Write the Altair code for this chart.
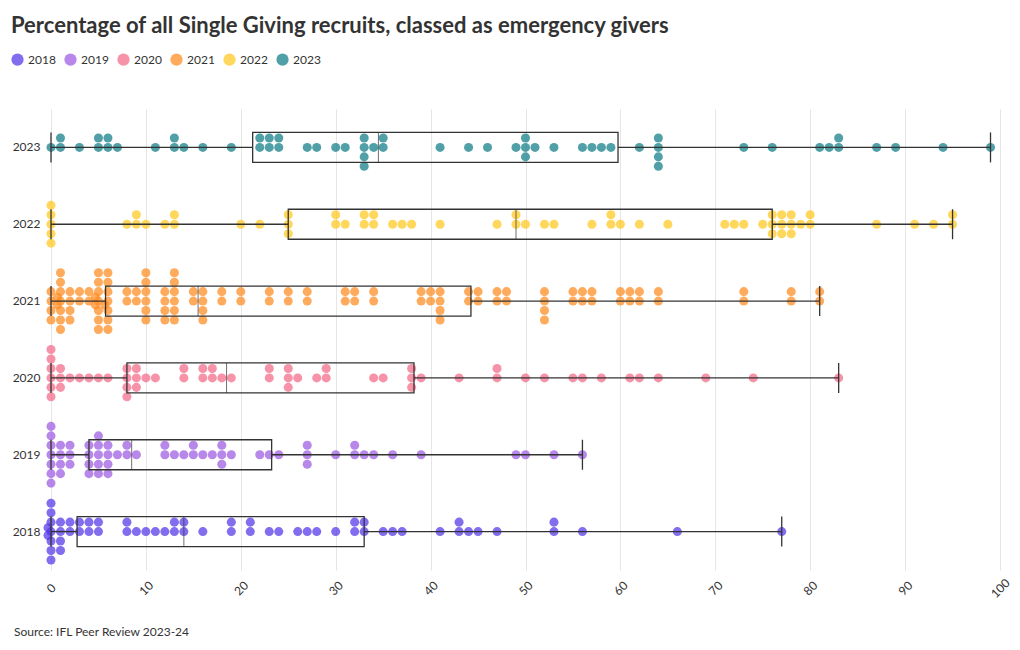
import altair as alt
import pandas as pd

years = ["2018", "2019", "2020", "2021", "2022", "2023"]
colors = ["#5235e8", "#9b59e0", "#f46a88", "#ff8b1f", "#ffc81f", "#0e7c87"]

v2018 = [0]*9 + [1]*4 + [2]*2 + [3]*2 + [4]*2 + [5]*2 + [8]*2 + [9, 10, 11, 12] + [13]*2 + [14]*2 + [16] + \
        [19]*2 + [21]*2 + [23, 24, 26, 27, 28, 30] + [32]*2 + [33]*2 + [35, 36, 37, 41] + [43]*2 + \
        [44, 45, 47] + [53]*2 + [56, 66, 77]
v2019 = [0]*7 + [1]*4 + [2]*3 + [4]*4 + [5]*5 + [6]*4 + [7] + [8]*2 + [9] + [12]*2 + [13, 14] + [15]*2 + \
        [16, 17] + [18]*3 + [19, 22, 23, 24] + [27]*3 + [30] + [32]*2 + [33, 34, 36, 39, 49, 50, 53, 56]
v2020 = [0]*6 + [1]*3 + [2, 3, 4, 5, 6] + [8]*4 + [9]*3 + [10, 11] + [14]*2 + [16]*2 + [17]*2 + [18, 19] + \
        [23]*2 + [25]*3 + [26, 28] + [29]*2 + [34, 35] + [38]*3 + [39, 43] + [47]*2 + \
        [50, 52, 55, 56, 58, 61, 62, 64, 69, 74, 83]
v2021 = [0]*4 + [1]*9 + [2]*4 + [3]*2 + [4]*2 + [5]*9 + [6]*8 + [8]*2 + [9]*2 + [10]*6 + [12]*4 + [13]*6 + \
        [15]*2 + [16]*4 + [18]*2 + [20]*2 + [23]*2 + [25]*2 + [27]*2 + [31]*2 + [32]*2 + [34]*2 + \
        [39]*2 + [40]*2 + [41]*4 + [44]*2 + [45]*2 + [47]*2 + [48]*2 + [52]*4 + [55]*2 + [56]*2 + \
        [57]*2 + [60]*2 + [61]*2 + [62]*2 + [64]*2 + [73]*2 + [78]*2 + [81]*2
v2022 = [0]*5 + [8] + [9]*2 + [10, 12] + [13]*2 + [20, 22] + [25]*3 + [30]*2 + [31] + [33]*2 + [34]*2 + \
        [36, 37, 38, 41, 47] + [49]*2 + [50, 52, 53, 57] + [59]*2 + [60, 62, 65, 71, 72, 73, 75] + \
        [76]*3 + [77]*3 + [78]*3 + [79] + [80]*2 + [87, 91, 93] + [95]*2
v2023 = [0] + [1]*2 + [3] + [5]*2 + [6]*2 + [7, 11] + [13]*2 + [14, 16, 19] + [22]*2 + [23]*2 + [24]*2 + \
        [27, 28, 30, 31] + [33]*4 + [34] + [35]*2 + [41, 44, 46, 49] + [50]*3 + [51, 53, 56, 57, 58, 59, 62] + \
        [64]*4 + [73, 76, 81, 82] + [83]*2 + [87, 89, 94, 99]

series = {"2018": v2018, "2019": v2019, "2020": v2020, "2021": v2021, "2022": v2022, "2023": v2023}

W, H = 949, 461
band = H / len(years)

# vertical stacking order of dots sharing a value (in dot steps); a column holds 7 dots,
# further dots are tucked in just beside the column centre
stack_order = [0, -1, 1, 2, -2, -3, 3]
overflow_order = [0.4, -0.4, 0.0, 0.8, -0.8]
step_px = 9.45

rows = []
for yr, vals in series.items():
    seen = {}
    for v in vals:
        k = seen.get(v, 0)
        seen[v] = k + 1
        if k < len(stack_order):
            rows.append({"year": yr, "value": v, "off": band / 2 + stack_order[k] * step_px, "extra": 0})
        else:
            rows.append({"year": yr, "value": v,
                         "off": band / 2 + overflow_order[k - len(stack_order)] * step_px, "extra": 1})
df = pd.DataFrame(rows)

y_enc = alt.Y("year:N", sort=years[::-1], title=None,
              scale=alt.Scale(paddingInner=0, paddingOuter=0),
              axis=alt.Axis(domain=False, ticks=False, grid=False, labelFontSize=12,
                            labelColor="#333", labelPadding=11, labelFont="Lato"))
x_enc = alt.X("value:Q", title=None, scale=alt.Scale(domain=[0, 100], nice=False),
              axis=alt.Axis(values=list(range(0, 101, 10)), domain=False, ticks=False,
                            grid=True, gridColor="#e6e6e6", labelAngle=-45, labelAlign="center",
                            labelBaseline="middle", labelFontSize=12,
                            labelColor="#333", labelFont="Lato", labelPadding=18))
color_enc = alt.Color("year:N", scale=alt.Scale(domain=years, range=colors),
                      legend=alt.Legend(title=None, orient="none", direction="horizontal",
                                        legendX=-40, legendY=-56, symbolType="circle",
                                        symbolSize=150, symbolOpacity=1, labelFontSize=12,
                                        labelColor="#333", labelFont="Lato", columnPadding=8,
                                        symbolStrokeWidth=0))

base = alt.Chart(df)
dots = base.transform_filter("datum.extra == 0").mark_circle(size=82, opacity=0.72).encode(
    x=x_enc, y=y_enc, yOffset=alt.YOffset("off:Q", scale=None), color=color_enc,
)
dots_extra = base.transform_filter("datum.extra == 1").mark_circle(
    size=82, opacity=0.72, xOffset=-3).encode(
    x=alt.X("value:Q"), y=alt.Y("year:N", sort=years[::-1]),
    yOffset=alt.YOffset("off:Q", scale=None), color=alt.Color("year:N"),
)

box = base.mark_boxplot(
    extent="min-max", size=30,
    box={"fill": "transparent", "stroke": "#333", "strokeWidth": 1.3},
    median={"color": "#333", "strokeWidth": 1.3},
    rule={"color": "#333", "strokeWidth": 1.3},
    ticks={"color": "#333", "size": 30, "thickness": 1.3},
    outliers=False,
).encode(x=alt.X("value:Q"), y=alt.Y("year:N", sort=years[::-1]))

source = alt.Chart(pd.DataFrame({"t": ["Source: IFL Peer Review 2023-24"]})).mark_text(
    align="left", baseline="middle", fontSize=12, color="#333", font="Lato"
).encode(text="t:N", x=alt.value(-37), y=alt.value(H + 62))

chart = alt.layer(dots_extra, dots, box, source).properties(
    width=W, height=H,
    title=alt.TitleParams("Percentage of all Single Giving recruits, classed as emergency givers",
                          anchor="start", frame="bounds", fontSize=22, font="Lato",
                          fontWeight="bold", color="#333", offset=15),
    padding={"left": 3, "top": 7, "right": 0, "bottom": 5},
).configure_view(stroke=None)

chart.save("out.html", embed_options={"renderer": "svg", "actions": False})
